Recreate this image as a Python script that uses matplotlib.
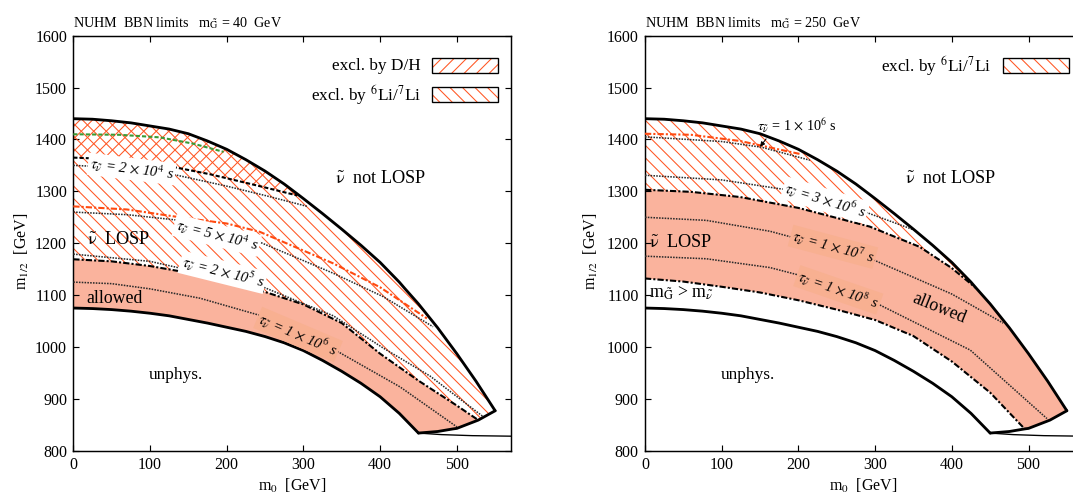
#NUHM BBN limits, two panels (m_G = 40 GeV and 250 GeV)
import numpy as np	#arrays
import matplotlib
matplotlib.use('Agg')
import matplotlib.pyplot as plt	#to plot
from matplotlib.patches import Rectangle

plt.rcParams['font.family'] = ['Liberation Serif', 'DejaVu Serif']
plt.rcParams['mathtext.fontset'] = 'stix'
plt.rcParams['hatch.linewidth'] = 1.0

###################################################################
#colors
salmon = '#fab39d'
labelbox = '#f8b091'
hatchcol = '#ff5522'
redline = '#ff4a10'
greenline = '#3a9a35'
dotcol = '#2a2a2a'

###################################################################
#boundaries common to both panels (m0, m1/2) [GeV]
m0_top = [0, 25, 50, 75, 100, 125, 150, 175, 200, 225, 250, 275, 292, 300, 325,
          350, 375, 400, 425, 432, 450, 475, 500, 525, 550]
m12_top = [1440, 1439, 1436, 1432, 1426, 1420, 1411, 1397, 1381, 1361, 1339, 1314,
           1295, 1286, 1257, 1227, 1196, 1163, 1125, 1113, 1083, 1037, 987, 934, 877]
m0_bot = [0, 25, 50, 75, 100, 125, 150, 175, 200, 225, 250, 275, 300, 325, 350,
          375, 400, 425, 450]
m12_bot = [1075, 1074, 1072, 1069, 1065, 1060, 1053, 1046, 1038, 1030, 1020, 1008,
           993, 974, 953, 930, 904, 872, 834]
m0_cor = [450, 475, 495, 500, 528, 550]
m12_cor = [834, 837, 842, 843, 859, 877]
m0_thin = [450, 480, 520, 570]
m12_thin = [834, 831, 829, 828]

#left panel, m_G = 40 GeV
L_m0_dd = [0, 50, 100, 150, 200, 250, 300, 350, 400, 450, 500, 528]	#Li / allowed boundary
L_m12_dd = [1169, 1165, 1156, 1143, 1126, 1106, 1082, 1046, 987, 935, 887, 859]
L_m0_dh = [0, 50, 113, 178, 243, 292]	#D/H boundary
L_m12_dh = [1365, 1362, 1352, 1333, 1310, 1292]
L_m0_green = [0, 60, 113, 156, 196]
L_m12_green = [1410, 1409, 1404, 1392, 1376]
L_m0_red = [0, 70, 139, 200, 243, 339, 400, 461]
L_m12_red = [1271, 1265, 1250, 1238, 1222, 1161, 1115, 1055]
L_m0_t2e4 = [0, 60, 126, 200, 250, 305]
L_m12_t2e4 = [1350, 1346, 1334, 1310, 1292, 1271]
L_m0_t5e4 = [0, 70, 139, 232, 339, 404, 469]
L_m12_t5e4 = [1260, 1255, 1244, 1209, 1142, 1097, 1039]
L_m0_t2e5 = [0, 100, 245, 339, 404, 465, 534]
L_m12_t2e5 = [1179, 1165, 1117, 1060, 998, 944, 866]
L_m0_t1e6 = [0, 50, 100, 165, 250, 339, 426, 500]
L_m12_t1e6 = [1125, 1122, 1112, 1094, 1058, 996, 923, 846]

#right panel, m_G = 250 GeV
R_m0_udd = [0, 60, 124, 200, 293, 358, 400, 432]	#Li / allowed boundary
R_m12_udd = [1303, 1299, 1289, 1268, 1232, 1193, 1152, 1113]
R_m0_ldd = [0, 50, 100, 150, 200, 250, 300, 350, 400, 450, 495]	#m_G > m_snu boundary
R_m12_ldd = [1132, 1126, 1116, 1105, 1090, 1072, 1052, 1021, 972, 912, 842]
R_m0_red = [0, 60, 124, 202]
R_m12_red = [1411, 1409, 1397, 1372]
R_m0_t1e6 = [0, 100, 152, 215]
R_m12_t1e6 = [1405, 1396, 1385, 1360]
R_m0_t3e6 = [0, 100, 189, 280, 350]
R_m12_t3e6 = [1331, 1322, 1302, 1264, 1226]
R_m0_t1e7 = [0, 80, 163, 293, 400, 467]
R_m12_t1e7 = [1250, 1244, 1223, 1171, 1102, 1046]
R_m0_t1e8 = [0, 80, 163, 202, 302, 424, 524]
R_m12_t1e8 = [1175, 1170, 1153, 1138, 1084, 994, 862]

xticks = [0, 100, 200, 300, 400, 500]
yticks = [800, 900, 1000, 1100, 1200, 1300, 1400, 1500, 1600]

####################################################
def part(xs, ys, lo, hi):
    xs = np.asarray(xs); ys = np.asarray(ys)
    k = (xs >= lo) & (xs <= hi)
    return list(xs[k]), list(ys[k])

def poly(*segs):
    x = []; y = []
    for sx, sy in segs:
        x += list(sx); y += list(sy)
    return x, y

def rev(s):
    return s[0][::-1], s[1][::-1]

tau = r'$\tau_{\tilde{\nu}}$'
nut = r'$\tilde{\mathrm{\nu}}$'
dashdot = (0, (3, 1, 1, 1))
dotted = (0, (1, 0.8))

def frame(ax, mg):
    ax.set_xlim(0, 570)
    ax.set_ylim(800, 1600)
    ax.set_xticks(xticks)
    ax.set_yticks(yticks)
    ax.tick_params(direction='in', length=6, width=1.1, top=True, right=True,
                   labelsize=15.4, pad=6)
    for s in ax.spines.values():
        s.set_linewidth(1.4)
    ax.text(0.5, -0.084, r'm$_0$  [GeV]', transform=ax.transAxes, ha='center',
            va='center', fontsize=15.4)
    ax.text(0, 1.021, r'NUHM  BBN limits   m$_{\tilde{\mathrm{G}}}$ = %d  GeV' % mg,
            transform=ax.transAxes, ha='left', va='baseline', fontsize=13.5)
    ax.plot(m0_top, m12_top, color='k', lw=2.7, zorder=4, solid_capstyle='round')
    ax.plot(m0_bot, m12_bot, color='k', lw=2.7, zorder=4, solid_capstyle='round')
    ax.plot(m0_cor, m12_cor, color='k', lw=2.7, zorder=4, solid_capstyle='round')
    ax.plot(m0_thin, m12_thin, color='k', lw=1.3, zorder=4)
    ax.text(134, 946, 'unphys.', fontsize=16.5, ha='center', va='center')

def legend_row(ax, x0, y0, label, h):
    ax.add_patch(Rectangle((x0, y0), 0.151, 0.036, transform=ax.transAxes,
                           facecolor='white', edgecolor=hatchcol, hatch=h, lw=0, zorder=6))
    ax.add_patch(Rectangle((x0, y0), 0.151, 0.036, transform=ax.transAxes,
                           fill=False, edgecolor='k', lw=1.3, zorder=7))
    ax.text(x0 - 0.026, y0 + 0.018, label, transform=ax.transAxes, ha='right',
            va='center', fontsize=16.5)

def tlabel(ax, x, y, s, rot, fc='white', size=14):
    ax.text(x, y, s, rotation=rot, ha='center', va='center', fontsize=size,
            style='italic', zorder=8, rotation_mode='anchor',
            bbox=dict(boxstyle='square,pad=0.12', facecolor=fc, edgecolor='none'))

fig = plt.figure(figsize=(1073 / 75, 497 / 75), dpi=75)
axL = fig.add_axes([73.3 / 1073, 1 - 450.7 / 497, 437.2 / 1073, 415 / 497])
axR = fig.add_axes([645 / 1073, 1 - 450.7 / 497, 437.2 / 1073, 415 / 497])

###################################################################
#left panel
ax = axL
top = (m0_top, m12_top)
bot = (m0_bot, m12_bot)
dd = (L_m0_dd, L_m12_dd)
x, y = poly(bot, part(m0_cor, m12_cor, 451, 528), rev(dd))
ax.fill(x, y, facecolor=salmon, edgecolor='none', zorder=1)
x, y = poly(top, rev(part(m0_cor, m12_cor, 528, 549)), rev(dd))
ax.fill(x, y, facecolor='none', edgecolor=hatchcol, hatch='\\\\', lw=0, zorder=2)
x, y = poly(part(m0_top, m12_top, 0, 292), rev((L_m0_dh, L_m12_dh)))
ax.fill(x, y, facecolor='none', edgecolor=hatchcol, hatch='//', lw=0, zorder=2)

ax.plot(L_m0_dd, L_m12_dd, color='k', lw=2.0, ls=dashdot, zorder=3)
ax.plot(L_m0_dh, L_m12_dh, color='k', lw=2.0, ls=(0, (2, 1)), zorder=3)
ax.plot(L_m0_green, L_m12_green, color=greenline, lw=2.0, ls=(0, (2, 1)), zorder=3)
ax.plot(L_m0_red, L_m12_red, color=redline, lw=2.0, ls=dashdot, zorder=3)
for xs, ys in [(L_m0_t2e4, L_m12_t2e4), (L_m0_t5e4, L_m12_t5e4),
               (L_m0_t2e5, L_m12_t2e5), (L_m0_t1e6, L_m12_t1e6)]:
    ax.plot(xs, ys, color=dotcol, lw=1.5, ls=dotted, zorder=3)

tlabel(ax, 76, 1343, tau + r' = 2 $\times$ 10$^{4}$ s', -7)
tlabel(ax, 187, 1215, tau + r' = 5 $\times$ 10$^{4}$ s', -14)
tlabel(ax, 195, 1144, tau + r' = 2 $\times$ 10$^{5}$ s', -14)
tlabel(ax, 293, 1024, tau + r' = 1 $\times$ 10$^{6}$ s', -23, fc=labelbox)

ax.text(400, 1324, nut + '  not LOSP', fontsize=17.5, ha='center', va='center')
ax.text(59, 1207, nut + '  LOSP', fontsize=17.5, ha='center', va='center')
ax.text(54, 1094, 'allowed', fontsize=17, ha='center', va='center')
ax.text(-0.118, 0.48, r'm$_{1/2}$  [GeV]', transform=ax.transAxes, rotation=90,
        ha='center', va='center', fontsize=15.4)
legend_row(ax, 0.821, 0.910, 'excl. by D/H', '//')
legend_row(ax, 0.821, 0.840, r'excl. by $^{6}$Li/$^{7}$Li', '\\\\')
frame(ax, 40)

###################################################################
#right panel
ax = axR
udd = (R_m0_udd, R_m12_udd)
ldd = (R_m0_ldd, R_m12_ldd)
x, y = poly(ldd, part(m0_cor, m12_cor, 496, 550),
            rev(part(m0_top, m12_top, 433, 549)), rev(udd))
ax.fill(x, y, facecolor=salmon, edgecolor='none', zorder=1)
x, y = poly(part(m0_top, m12_top, 0, 431), rev(udd))
ax.fill(x, y, facecolor='none', edgecolor=hatchcol, hatch='\\\\', lw=0, zorder=2)

ax.plot(R_m0_udd, R_m12_udd, color='k', lw=2.0, ls=dashdot, zorder=3)
ax.plot(R_m0_ldd, R_m12_ldd, color='k', lw=2.0, ls=dashdot, zorder=3)
ax.plot(R_m0_red, R_m12_red, color=redline, lw=2.0, ls=dashdot, zorder=3)
for xs, ys in [(R_m0_t1e6, R_m12_t1e6), (R_m0_t3e6, R_m12_t3e6),
               (R_m0_t1e7, R_m12_t1e7), (R_m0_t1e8, R_m12_t1e8)]:
    ax.plot(xs, ys, color=dotcol, lw=1.5, ls=dotted, zorder=3)

ax.annotate(tau + r' = 1 $\times$ 10$^{6}$ s', xy=(150, 1386), xytext=(198, 1426),
            ha='center', va='center', fontsize=13.5, zorder=8,
            arrowprops=dict(arrowstyle='-|>', color='k', lw=1.0, mutation_scale=9,
                            shrinkA=2, shrinkB=0, relpos=(0.15, 0.0)))
tlabel(ax, 235, 1283, tau + r' = 3 $\times$ 10$^{6}$ s', -17)
tlabel(ax, 245, 1193, tau + r' = 1 $\times$ 10$^{7}$ s', -15, fc=labelbox)
tlabel(ax, 252, 1110, tau + r' = 1 $\times$ 10$^{8}$ s', -19, fc=labelbox)

ax.text(398, 1325, nut + '  not LOSP', fontsize=17.5, ha='center', va='center')
ax.text(46, 1201, nut + '  LOSP', fontsize=17.5, ha='center', va='center')
ax.text(5, 1103, r'm$_{\tilde{\mathrm{G}}}$ > m$_{\tilde{\nu}}$', fontsize=17,
        ha='left', va='center')
ax.text(383, 1074, 'allowed', fontsize=17, ha='center', va='center', rotation=-22)
ax.text(-0.124, 0.48, r'm$_{1/2}$  [GeV]', transform=ax.transAxes, rotation=90,
        ha='center', va='center', fontsize=15.4)
legend_row(ax, 0.819, 0.910, r'excl. by $^{6}$Li/$^{7}$Li', '\\\\')
frame(ax, 250)

fig.savefig('out.png', dpi=75)
